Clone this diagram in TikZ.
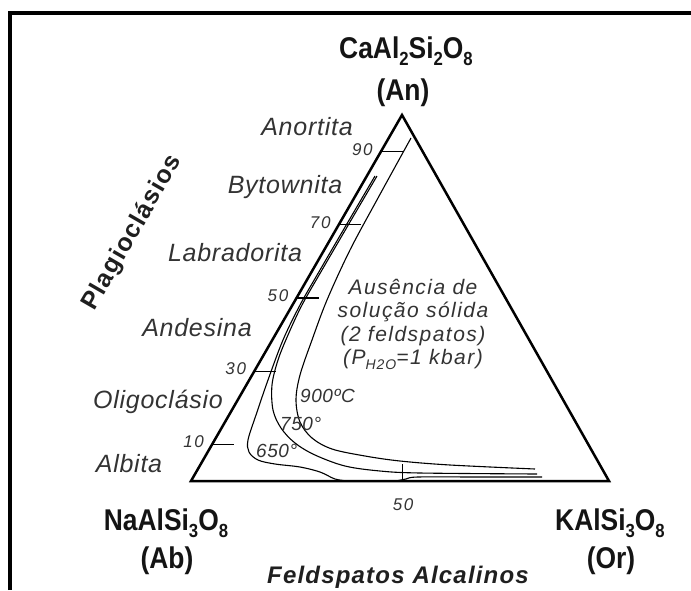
\documentclass[tikz,border=0pt]{standalone}
\usepackage{fontspec}
\setmainfont{Liberation Sans}
\newfontfamily\labfont[LetterSpace=3]{Liberation Sans}
\newfontfamily\blockfont[LetterSpace=7]{Liberation Sans}
\newfontfamily\numfont[LetterSpace=10]{Liberation Sans}
\newfontfamily\axfont[LetterSpace=5]{Liberation Sans}
\newfontfamily\condfont[FakeStretch=0.88]{Liberation Sans}
\usetikzlibrary{calc}
\newcommand{\sbs}[1]{\raisebox{-7pt}{\fontsize{19}{19}\selectfont #1}}
\newcommand{\psub}[1]{\raisebox{-5pt}{\fontsize{14}{14}\selectfont #1}}
\begin{document}
\begin{tikzpicture}[x=1pt,y=-1pt,
  frameline/.style={line width=3.2pt},
  edge/.style={line width=2.5pt, line join=miter},
  curve/.style={line width=1.1pt},
  tickline/.style={line width=1.1pt},
  big/.style={font=\condfont\fontsize{30}{32}\selectfont\bfseries, text=black!92, inner sep=0pt, anchor=base},
  axlab/.style={font=\axfont\fontsize{25}{28}\selectfont\bfseries, text=black!88, inner sep=0pt, anchor=base},
  lab/.style={font=\labfont\fontsize{25}{28}\selectfont\itshape, text=black!80, inner sep=0pt, anchor=base},
  blk/.style={font=\blockfont\fontsize{21}{24}\selectfont\itshape, text=black!80, inner sep=0pt, anchor=base},
  num/.style={font=\numfont\fontsize{17}{20}\selectfont\itshape, text=black!80, inner sep=0pt, anchor=base east},
  temp/.style={font=\labfont\fontsize{19}{22}\selectfont\itshape, text=black!80, inner sep=0pt, anchor=base west},
]
\useasboundingbox (0,0) rectangle (691,590);
% frame
\coordinate (fb) at (10,590);
\coordinate (fc) at (10,13);
\coordinate (fr) at (691,13);
\draw[frameline] (fb) -- (fc) -- (fr);

% triangle corners
\coordinate (An) at (402,115);
\coordinate (Ab) at (191,481);
\coordinate (Or) at (609,481);

% solvus curves
\draw[curve] plot[smooth, tension=0.55] coordinates {(411,138) (378,198) (350,250) (327,300) (312,340) (300,375) (296,400) (300,422) (312,438) (332,449) (365,456) (400,461) (450,465) (535,469)};
\draw[curve] plot[smooth, tension=0.55] coordinates {(377,176) (350,222) (322,270) (302,305) (288,335) (278,360) (272,385) (273,410) (281,428) (295,443) (315,455) (345,466) (380,471) (420,473) (537,474)};
\draw[curve] plot[smooth, tension=0.55] coordinates {(375,176) (348,222) (320,270) (300,305) (283,340) (268,380) (256,415) (248,440) (249,452) (258,460) (275,464) (300,467) (320,472) (335,479) (348,481)};
\draw[curve] plot[smooth, tension=0.55] coordinates {(396,481) (406,479) (418,477) (480,477) (542,477)};

% ticks on left edge
\foreach \t/\n in {0.1/10,0.3/30,0.5/50,0.7/70,0.9/90}{
  \coordinate (tk\n) at ($(Ab)!\t!(An)$);
  \coordinate (te\n) at ($(tk\n)+(22,0)$);
  \draw[tickline] (tk\n) -- (te\n);
  \node[num] (n\n) at ($(tk\n)+(-8,3.5)$) {\n};
}
% tick on base
\coordinate (bt) at ($(Ab)!0.505!(Or)$);
\coordinate (btt) at ($(bt)+(0,-17)$);
\draw[tickline] (bt) -- (btt);
\node[num, anchor=base] (n50b) at ($(bt)+(1,29)$) {50};

% triangle
\draw[edge] (Ab) -- (An) -- (Or) -- cycle;

% formula labels
\node[big] (anf) at (406,58) {CaAl\sbs{2}Si\sbs{2}O\sbs{8}};
\node[big] (ans) at (403,100) {(An)};
\node[big] (abf) at (166,530) {NaAlSi\sbs{3}O\sbs{8}};
\node[big] (abs) at (167,568) {(Ab)};
\node[big] (orf) at (610,530) {KAlSi\sbs{3}O\sbs{8}};
\node[big] (ors) at (611,568) {(Or)};

% axis labels
\node[axlab, font=\axfont\fontsize{24}{28}\selectfont\bfseries\itshape] (fa) at (398,583) {Feldspatos Alcalinos};
\node[axlab, rotate=60] (pl) at (138,236) {Plagioclásios};

% plagioclase names
\node[lab] (l1) at (307,135) {Anortita};
\node[lab] (l2) at (285,193) {Bytownita};
\node[lab] (l3) at (235,261) {Labradorita};
\node[lab] (l4) at (197,336) {Andesina};
\node[lab] (l5) at (158,408) {Oligoclásio};
\node[lab] (l6) at (129,472) {Albita};

% miscibility gap text
\node[blk] (b1) at (413,294) {Ausência de};
\node[blk] (b2) at (413,317.5) {solução sólida};
\node[blk] (b3) at (413,341) {(2 feldspatos)};
\node[blk] (b4) at (413,364.5) {(P\psub{H2O}=1 kbar)};

% temperatures
\node[temp] (t900) at (300,402) {900ºC};
\node[temp] (t750) at (280,430) {750°};
\node[temp] (t650) at (256,457) {650°};
\end{tikzpicture}
\end{document}
